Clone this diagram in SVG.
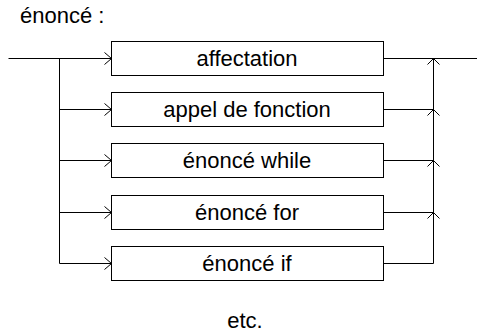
<svg xmlns="http://www.w3.org/2000/svg" width="477" height="333" viewBox="0 0 477 333">
<style>
text{font-family:"Liberation Sans",Arial,sans-serif;font-size:22px;fill:#000}
.box rect{fill:#fff;stroke:#000;stroke-width:1}
.box text{text-anchor:middle}
#connectors path{fill:none;stroke:#000;stroke-width:1}
</style>
<text x="20" y="23">énoncé :</text>
<g id="connectors" transform="translate(0.5 0.5)">
<path d="M8 58H111M59 58V263"/>
<path d="M59 109H111M59 160H111M59 212H111M59 263H111"/>
<path d="M104 52L111 58L104 64M104 103L111 109L104 115M104 154L111 160L104 166M104 206L111 212L104 218M104 257L111 263L104 269"/>
<path d="M383 58H477M433 58V263"/>
<path d="M383 109H433M383 160H433M383 212H433M383 263H433"/>
<path d="M427 64L433 58L439 64M427 115L433 109L439 115M427 166L433 160L439 166M427 218L433 212L439 218"/>
</g>
<g id="n1" class="box"><rect x="111.5" y="41.5" width="272" height="34"/><text x="247" y="66">affectation</text></g>
<g id="n2" class="box"><rect x="111.5" y="92.5" width="272" height="34"/><text x="247" y="117">appel de fonction</text></g>
<g id="n3" class="box"><rect x="111.5" y="143.5" width="272" height="34"/><text x="247" y="168">énoncé while</text></g>
<g id="n4" class="box"><rect x="111.5" y="195.5" width="272" height="34"/><text x="247" y="220">énoncé for</text></g>
<g id="n5" class="box"><rect x="111.5" y="246.5" width="272" height="34"/><text x="247" y="271">énoncé if</text></g>
<text x="245" y="328" text-anchor="middle">etc.</text>
</svg>
